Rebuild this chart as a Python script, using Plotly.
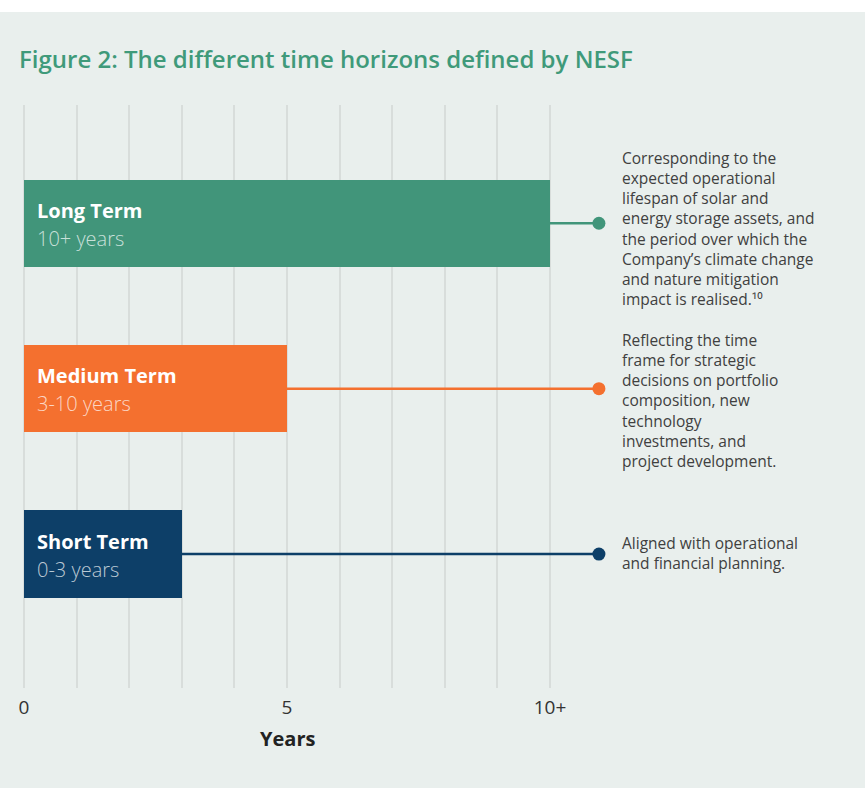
import plotly.graph_objects as go

# Time horizons (bottom to top)
horizons = ["Short Term", "Medium Term", "Long Term"]
ranges = ["0-3 years", "3-10 years", "10+ years"]
bar_years = [3, 5, 10]
colors = ["#0d3f68", "#f4702f", "#41957a"]
descriptions = [
    "Aligned with operational<br>and financial planning.",
    "Reflecting the time<br>frame for strategic<br>decisions on portfolio<br>composition, new<br>technology<br>investments, and<br>project development.",
    "Corresponding to the<br>expected operational<br>lifespan of solar and<br>energy storage assets, and<br>the period over which the<br>Company\u2019s climate change<br>and nature mitigation<br>impact is realised.\u00b9\u2070",
]
connector_end = 10.93
text_x = 11.33

tick_vals = [0, 5, 10]
tick_text = ["0", "5", "10+"]

W, H = 865, 788
L, R, T, B = 24, 20, 105, 100
plot_w = W - L - R
plot_h = H - T - B

# vertical offset (px, downward) of each description block centre from its connector
desc_offset = [-1, 12, 5]
grid_color = "#d8dddb"

fig = go.Figure()

fig.add_trace(go.Bar(
    x=bar_years, y=list(range(3)), orientation="h",
    marker=dict(color=colors, line=dict(width=0)),
    width=0.527, hoverinfo="skip", showlegend=False,
))

for i in range(3):
    fig.add_trace(go.Scatter(
        x=[bar_years[i], connector_end], y=[i, i], mode="lines",
        line=dict(color=colors[i], width=2.5),
        hoverinfo="skip", showlegend=False,
    ))
    fig.add_trace(go.Scatter(
        x=[connector_end], y=[i], mode="markers",
        marker=dict(size=13, color=colors[i], opacity=1, line=dict(width=0)),
        hoverinfo="skip", showlegend=False,
    ))
    fig.add_annotation(
        x=0, y=i, xref="x", yref="y", xanchor="left", yanchor="middle",
        xshift=11, yshift=13, showarrow=False,
        text="<b>" + horizons[i] + "</b>",
        font=dict(family="Open Sans", size=20, color="white"),
    )
    fig.add_annotation(
        x=0, y=i, xref="x", yref="y", xanchor="left", yanchor="middle",
        xshift=11, yshift=-15, showarrow=False,
        text=ranges[i],
        font=dict(family="Open Sans", size=20, color="rgba(255,255,255,0.72)", weight=300),
    )
    fig.add_annotation(
        x=text_x, y=i, xref="x", yref="y", xanchor="left", yanchor="middle",
        yshift=-desc_offset[i], showarrow=False, align="left", text=descriptions[i],
        font=dict(family="Open Sans", size=15.5, color="#404040"),
    )

# axis title centred under the 5-year tick
fig.add_annotation(
    x=5, y=-50 / plot_h, xref="x", yref="paper", xanchor="center", yanchor="middle",
    showarrow=False, text="<b>Years</b>",
    font=dict(family="Open Sans", size=20, color="#222222"),
)

# white strip along the top edge
fig.add_shape(
    type="rect", xref="paper", yref="paper", layer="below",
    x0=-L / plot_w, x1=(W - L) / plot_w,
    y0=(plot_h + T - 12) / plot_h, y1=(plot_h + T + 2) / plot_h,
    fillcolor="white", line=dict(width=0),
)

fig.update_layout(
    width=W, height=H,
    margin=dict(l=L, r=R, t=T, b=B),
    paper_bgcolor="#e9efed", plot_bgcolor="#e9efed",
    title=dict(
        text="Figure 2: The different time horizons defined by NESF",
        xref="container", yref="container", x=19 / W, y=1 - 60 / H,
        xanchor="left", yanchor="middle",
        font=dict(family="Open Sans", size=24, color="#3f9a7a", weight=600),
    ),
    xaxis=dict(
        range=[0, plot_w / 52.6], tickvals=tick_vals, ticktext=tick_text,
        showgrid=True, gridcolor=grid_color, gridwidth=1.5,
        zeroline=True, zerolinecolor=grid_color, zerolinewidth=1.5,
        minor=dict(tickvals=list(range(0, 11)), showgrid=True,
                   gridcolor=grid_color, gridwidth=1.5, ticks=""),
        showline=False, ticks="", ticklabelstandoff=6,
        tickfont=dict(family="Open Sans", size=19, color="#333333"),
        fixedrange=True,
    ),
    yaxis=dict(
        range=[-0.81, 2.715], showgrid=False, zeroline=False, showline=False,
        showticklabels=False, ticks="", fixedrange=True,
    ),
    bargap=0,
)

fig.write_html("out.html")
